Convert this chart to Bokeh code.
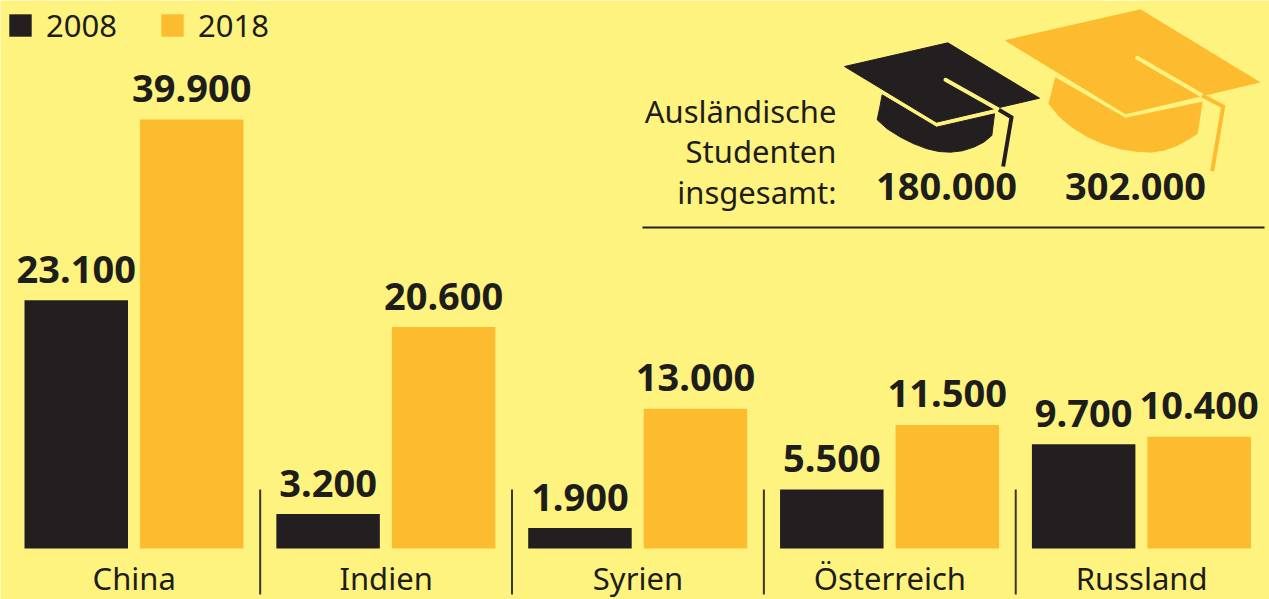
from bokeh.plotting import figure
from bokeh.embed import file_html
from bokeh.resources import INLINE
from bokeh.core.properties import value
from bokeh.models import Range1d, ColumnDataSource, Legend, LegendItem

categories = ["China", "Indien", "Syrien", "Österreich", "Russland"]
values_2008 = [23100, 3200, 1900, 5500, 9700]
values_2018 = [39900, 20600, 13000, 11500, 10400]
labels_2008 = ["23.100", "3.200", "1.900", "5.500", "9.700"]
labels_2018 = ["39.900", "20.600", "13.000", "11.500", "10.400"]
title_lines = ["Ausländische", "Studenten", "insgesamt:"]
total_labels = ["180.000", "302.000"]

BG, GOLD, DARK, TEXT = "#FFF380", "#FDBC2F", "#231F20", "#1D1D1B"
W, H = 1269, 599
PX_PER_GROUP = 251.85
PX_PER_UNIT = 0.01075
C0, BASE = 133.75, 548
FONT = "Noto Sans"
REG_SHIFT, BOLD_SHIFT = 12, 15   # alphabetic baseline sits this far low in the svg output

p = figure(width=W, height=H, output_backend="svg", toolbar_location=None,
           x_range=Range1d(-C0 / PX_PER_GROUP, (W - C0) / PX_PER_GROUP),
           y_range=Range1d(-(H - BASE) / PX_PER_UNIT, BASE / PX_PER_UNIT),
           min_border=0, background_fill_color=BG, border_fill_color=BG,
           outline_line_color=None)
p.extra_x_ranges["px"] = Range1d(0, W)
p.extra_y_ranges["px"] = Range1d(H, 0)
p.xaxis.visible = False
p.yaxis.visible = False
p.grid.visible = False

idx = list(range(len(categories)))
src = ColumnDataSource(dict(
    x08=[i - 58 / PX_PER_GROUP for i in idx],
    x18=[i + 57.5 / PX_PER_GROUP for i in idx],
    v08=values_2008, v18=values_2018, l08=labels_2008, l18=labels_2018,
    xc=idx, cat=categories,
    ylab=[-(589 - REG_SHIFT - BASE) / PX_PER_UNIT] * len(idx)))
bw = 103.5 / PX_PER_GROUP
r08 = p.vbar(x="x08", top="v08", width=bw, source=src, fill_color=DARK, line_color=None)
r18 = p.vbar(x="x18", top="v18", width=bw, source=src, fill_color=GOLD, line_color=None)

vopts = dict(text_font=value(FONT), text_font_style="bold", text_font_size="38px",
             text_color=TEXT, text_align="center", text_baseline="alphabetic",
             y_offset=-16 - BOLD_SHIFT)
p.text(x="x08", y="v08", text="l08", source=src, **vopts)
p.text(x="x18", y="v18", text="l18", source=src, **vopts)

# category labels and dividers
p.text(x="xc", y="ylab", text="cat", source=src,
       text_font=value(FONT), text_font_size="31px", text_color=TEXT,
       text_align="center", text_baseline="alphabetic")
div_x = [i + 0.5 for i in idx[:-1]]
p.segment(x0=div_x, x1=div_x,
          y0=[-(594 - BASE) / PX_PER_UNIT] * 4, y1=[(BASE - 489) / PX_PER_UNIT] * 4,
          line_color="#3a3728", line_width=2)

# legend
legend = Legend(items=[LegendItem(label="2008", renderers=[r08]),
                       LegendItem(label="2018", renderers=[r18])],
                orientation="horizontal", location=(6, H - 46), spacing=41,
                margin=0, padding=0, glyph_width=28, glyph_height=28, label_standoff=12,
                background_fill_alpha=0, border_line_alpha=0,
                label_text_font=FONT, label_text_font_size="31px", label_text_color=TEXT)
p.add_layout(legend, "center")

# inset: headline, totals, rule
px = dict(x_range_name="px", y_range_name="px")
p.text(x=[836] * 3, y=[122 - REG_SHIFT, 162 - REG_SHIFT, 203 - REG_SHIFT], text=title_lines,
       text_font=value(FONT), text_font_size="31px", text_color=TEXT, text_align="right",
       text_baseline="alphabetic", **px)
p.text(x=[946, 1135], y=[201 - BOLD_SHIFT] * 2, text=total_labels, text_font=value(FONT),
       text_font_style="bold", text_font_size="38px", text_color=TEXT,
       text_align="center", text_baseline="alphabetic", **px)
p.segment(x0=[642], x1=[1264], y0=[227], y1=[227], line_color=DARK, line_width=2, **px)


def z(points):
    return [830 + a / 3 for a, b in points], [b / 3 for a, b in points]


def hat(board, base, thread, tassel, color):
    x, y = z(board)
    p.patch(x, y, color=color, **px)
    x, y = z(base)
    p.patch(x, y, color=color, **px)
    x, y = z(thread)
    p.line(x, y, line_color=BG, line_width=4, line_cap="round", **px)
    x, y = z(tassel)
    p.line(x, y, line_color=color, line_width=4, line_join="miter", **px)


hat([(42, 198), (352, 127), (627, 293), (318, 365)],
    [(155, 283), (318, 380), (492, 340), (484, 405), (460, 425), (430, 440), (395, 451),
     (360, 455), (325, 453), (290, 445), (250, 430), (210, 410), (170, 385), (140, 358),
     (148, 320)],
    [(345, 238), (505, 328)],
    [(505, 328), (543, 350), (518, 498)], DARK)
hat([(525, 120), (930, 28), (1287, 245), (885, 340)],
    [(675, 232), (885, 353), (1115, 305), (1100, 400), (1072, 417), (1040, 435), (1000, 449),
     (960, 455), (915, 452), (870, 445), (820, 430), (770, 408), (725, 380), (690, 352),
     (655, 310)],
    [(920, 172), (1115, 285)],
    [(1115, 285), (1178, 318), (1145, 512)], GOLD)

open("out.html", "w").write(file_html(p, INLINE))
